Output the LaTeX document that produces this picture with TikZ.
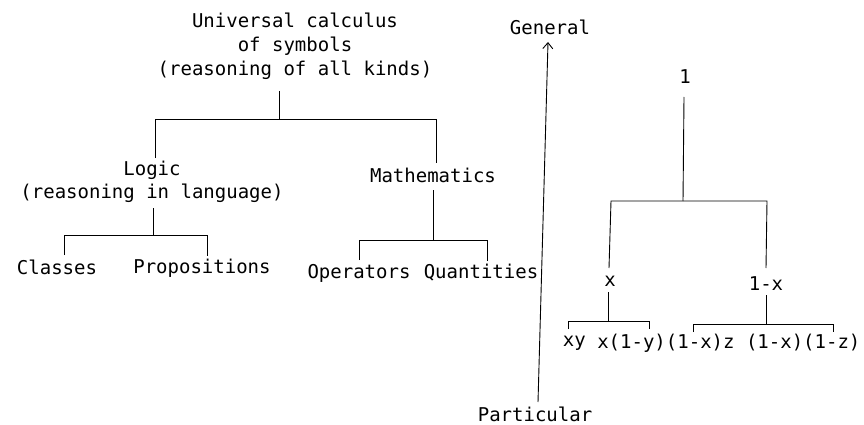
\documentclass[tikz,border=0pt]{standalone}
\usepackage{fontspec}
\setmainfont{DejaVu Sans Mono}
\usetikzlibrary{arrows.meta}
\begin{document}
\begin{tikzpicture}[x=1pt,y=-1pt,
  lbl/.style={inner sep=0pt,align=center,font=\fontsize{19}{24}\selectfont},
  ln/.style={line width=0.9pt}]
\useasboundingbox (0,0) rectangle (864,425);
% left tree labels
\node[lbl] (root) at (295,46) {Universal calculus\\of symbols\\(reasoning of all kinds)};
\node[lbl,font=\fontsize{19}{23}\selectfont] (logic) at (152,182) {Logic\\(reasoning in language)};
\node[lbl] (math) at (433,175) {Mathematics};
\node[lbl] (classes) at (57,267) {Classes};
\node[lbl] (props) at (202,268) {Propositions};
\node[lbl] (ops) at (359,273) {Operators};
\node[lbl] (quant) at (481,273) {Quantities};
% axis
\node[lbl] (gen) at (550,27) {General};
\node[lbl] (part) at (535,414) {Particular};
% right tree labels
\node[lbl] (one) at (685,77) {1};
\node[lbl] (x) at (610,281) {x};
\node[lbl] (omx) at (766,284) {1-x};
\node[lbl] (xy) at (574.4,343) {xy};
\node[lbl] (xmy) at (631.6,343) {x(1-y)};
\node[lbl] (omxz) at (700.3,343) {(1-x)z};
\node[lbl] (omxomz) at (803.2,343) {(1-x)(1-z)};
% coordinates
\coordinate (rt) at (279,91);  \coordinate (rj) at (279,119);
\coordinate (lb) at (155,119); \coordinate (rb) at (436,119);
\coordinate (lt) at (155,158); \coordinate (mt) at (436,163);
\coordinate (ls) at (153,208); \coordinate (lj) at (153,235);
\coordinate (cb) at (64,235);  \coordinate (pb) at (207,235);
\coordinate (ct) at (64,255);  \coordinate (pt) at (207,256);
\coordinate (ms) at (433,190); \coordinate (mj) at (433,240);
\coordinate (ob) at (359,240); \coordinate (qb) at (487,240);
\coordinate (ot) at (359,260); \coordinate (qt) at (487,261);
\coordinate (abot) at (538,402); \coordinate (atop) at (548,42);
\coordinate (os) at (684,97);  \coordinate (oj) at (683,201);
\coordinate (xb) at (611,201); \coordinate (ob2) at (767,201);
\coordinate (xt) at (609,268); \coordinate (omt) at (766,268);
\coordinate (xs) at (608,292); \coordinate (xj) at (608,321);
\coordinate (xyb) at (568,321); \coordinate (xmyb) at (649,321);
\coordinate (xyt) at (568,329); \coordinate (xmyt) at (649,329);
\coordinate (oms) at (766,295); \coordinate (omj) at (766,324);
\coordinate (ozb) at (693,324); \coordinate (oozb) at (833,324);
\coordinate (ozt) at (693,332); \coordinate (oozt) at (833,332);
% left tree lines
\draw[ln] (rt) -- (rj);
\draw[ln] (lt) -- (lb) -- (rb) -- (mt);
\draw[ln] (ls) -- (lj);
\draw[ln] (ct) -- (cb) -- (pb) -- (pt);
\draw[ln] (ms) -- (mj);
\draw[ln] (ot) -- (ob) -- (qb) -- (qt);
% axis arrow
\draw[ln,-{Straight Barb[length=6pt,width=10pt]}] (abot) -- (atop);
% right tree lines
\draw[ln] (os) -- (oj);
\draw[ln] (xt) -- (xb) -- (ob2) -- (omt);
\draw[ln] (xs) -- (xj);
\draw[ln] (xyt) -- (xyb) -- (xmyb) -- (xmyt);
\draw[ln] (oms) -- (omj);
\draw[ln] (ozt) -- (ozb) -- (oozb) -- (oozt);
\end{tikzpicture}
\end{document}
